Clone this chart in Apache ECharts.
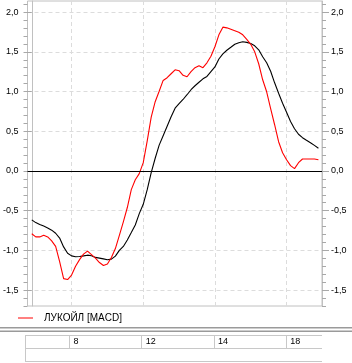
<!DOCTYPE html>
<html><head><meta charset="utf-8">
<script src="https://cdn.jsdelivr.net/npm/echarts@6/dist/echarts.min.js"></script>
<style>html,body{margin:0;padding:0;background:#fff}#c{width:352px;height:363px}</style>
</head><body><div id="c"></div>
<script>
const macd = [-0.79,-0.83,-0.83,-0.81,-0.83,-0.88,-0.95,-1.14,-1.355,-1.367,-1.31,-1.2,-1.116,-1.047,-1.009,-1.053,-1.097,-1.153,-1.19,-1.172,-1.09,-0.977,-0.81,-0.64,-0.46,-0.235,-0.11,-0.034,0.105,0.38,0.677,0.872,1.004,1.14,1.174,1.224,1.274,1.262,1.205,1.186,1.25,1.3,1.325,1.3,1.362,1.444,1.564,1.714,1.811,1.802,1.784,1.765,1.746,1.714,1.658,1.595,1.5,1.35,1.148,0.997,0.784,0.582,0.368,0.23,0.142,0.067,0.03,0.104,0.151,0.151,0.151,0.151,0.142];
const signal = [-0.616,-0.65,-0.674,-0.694,-0.717,-0.745,-0.784,-0.845,-0.956,-1.035,-1.069,-1.08,-1.077,-1.069,-1.06,-1.068,-1.088,-1.097,-1.107,-1.118,-1.11,-1.072,-1.0,-0.95,-0.87,-0.776,-0.68,-0.537,-0.42,-0.235,-0.02,0.16,0.325,0.444,0.564,0.683,0.79,0.847,0.9,0.96,1.023,1.073,1.117,1.16,1.19,1.25,1.31,1.41,1.475,1.52,1.557,1.595,1.614,1.626,1.619,1.604,1.576,1.526,1.438,1.362,1.255,1.11,0.979,0.853,0.74,0.623,0.532,0.462,0.419,0.386,0.356,0.322,0.287];
const gridIdx = [10, 28, 46, 64];
const dayLabels = ['8', '12', '14', '18'];
const yMajor = [-1.5, -1, -0.5, 0, 0.5, 1, 1.5, 2];
const yMinor = [-1.7,-1.6,-1.5,-1.4,-1.3,-1.2,-1.1,-1.0,-0.9,-0.8,-0.7,-0.6,-0.5,-0.4,-0.3,-0.2,-0.1,0,0.1,0.2,0.3,0.4,0.5,0.6,0.7,0.8,0.9,1.0,1.1,1.2,1.3,1.4,1.5,1.6,1.7,1.8,1.9,2.0,2.1];
const seriesName = 'ЛУКОЙЛ [MACD]';

const YMIN = -1.7, YMAX = 2.14, XMIN = -1.07, XMAX = 72.9;
const FONT = 'Liberation Sans';
const fmt = v => v.toFixed(1).replace('.', ',');
const tickColor = '#a8a8a8';
const frameColor = '#c0c0c0';

function yAx(pos, major) {
  return {
    type: 'value', position: pos, min: YMIN, max: YMAX, gridIndex: 0,
    axisLine: { show: major, lineStyle: { color: frameColor, width: 1 } },
    axisTick: { show: true, customValues: major ? yMajor : yMinor, length: major ? 7 : 4, lineStyle: { color: tickColor } },
    axisLabel: major ? { show: true, customValues: yMajor, formatter: fmt, margin: 9, fontSize: 9, fontFamily: FONT, color: '#000' } : { show: false },
    splitLine: (major && pos === 'left') ? { show: true, lineStyle: { type: [4, 3], color: '#dcdcdc', width: 1 } } : { show: false }
  };
}

const chart = echarts.init(document.getElementById('c'), null, { renderer: 'canvas' });
chart.setOption({
  animation: false,
  backgroundColor: '#fff',
  grid: [
    { left: 25, top: 1, width: 297, height: 305, show: true, borderColor: frameColor, borderWidth: 1, backgroundColor: '#fff' },
    { left: 25, top: 335, width: 297, height: 13, show: false }
  ],
  legend: {
    data: [seriesName], left: 18, top: 313, padding: 0,
    icon: 'rect', itemWidth: 15, itemHeight: 1,
    textStyle: { fontSize: 10, fontFamily: FONT, color: '#000', padding: [0, 0, 0, 6] }
  },
  xAxis: [
    { type: 'value', gridIndex: 0, min: XMIN, max: XMAX,
      axisLine: { show: false }, axisLabel: { show: false },
      axisTick: { show: false, customValues: gridIdx },
      splitLine: { show: true, lineStyle: { type: [4, 3], color: '#dcdcdc', width: 1 } } },
    { type: 'value', gridIndex: 1, min: XMIN, max: XMAX, position: 'bottom',
      axisLine: { show: false },
      axisTick: { show: false, customValues: gridIdx },
      axisLabel: { show: true, customValues: gridIdx, inside: true, margin: 6, align: 'left', verticalAlign: 'middle', padding: [0, 0, 0, 4],
        fontSize: 9, fontFamily: FONT, color: '#000',
        formatter: v => { const k = gridIdx.indexOf(Math.round(v)); return k >= 0 ? dayLabels[k] : ''; } },
      splitLine: { show: true, lineStyle: { color: '#c8c8c8', width: 1 } } }
  ],
  yAxis: [yAx('left', true), yAx('left', false), yAx('right', true), yAx('right', false),
    { type: 'value', gridIndex: 1, min: 0, max: 1, show: false }],
  series: [
    { name: seriesName, type: 'line', xAxisIndex: 0, yAxisIndex: 0, data: macd.map((v, i) => [i, v]),
      showSymbol: false, symbol: 'none', lineStyle: { color: '#ff0000', width: 1.1 }, itemStyle: { color: '#ff0000' }, z: 3 },
    { name: 'Signal', type: 'line', xAxisIndex: 0, yAxisIndex: 0, data: signal.map((v, i) => [i, v]),
      showSymbol: false, symbol: 'none', lineStyle: { color: '#000000', width: 1.1 }, itemStyle: { color: '#000' }, z: 2,
      markLine: { silent: true, symbol: 'none', label: { show: false }, lineStyle: { color: '#000', type: 'solid', width: 1 },
        data: [{ yAxis: 0 }] } },
    { name: 'table', type: 'line', xAxisIndex: 1, yAxisIndex: 4, data: [], silent: true }
  ],
  graphic: [
    { type: 'rect', shape: { x: 0, y: 327, width: 352, height: 1.5 }, style: { fill: '#9a9a9a' }, silent: true },
    { type: 'rect', shape: { x: 0, y: 330.5, width: 352, height: 1.5 }, style: { fill: '#9a9a9a' }, silent: true },
    { type: 'line', shape: { x1: 25, y1: 335.5, x2: 322, y2: 335.5 }, style: { stroke: '#c8c8c8', lineWidth: 1 }, silent: true },
    { type: 'line', shape: { x1: 25, y1: 348.5, x2: 322, y2: 348.5 }, style: { stroke: '#c8c8c8', lineWidth: 1 }, silent: true },
    { type: 'line', shape: { x1: 25, y1: 361.5, x2: 322, y2: 361.5 }, style: { stroke: '#c8c8c8', lineWidth: 1 }, silent: true },
    { type: 'line', shape: { x1: 25.5, y1: 335, x2: 25.5, y2: 362 }, style: { stroke: '#c8c8c8', lineWidth: 1 }, silent: true }
  ]
});
</script></body></html>
